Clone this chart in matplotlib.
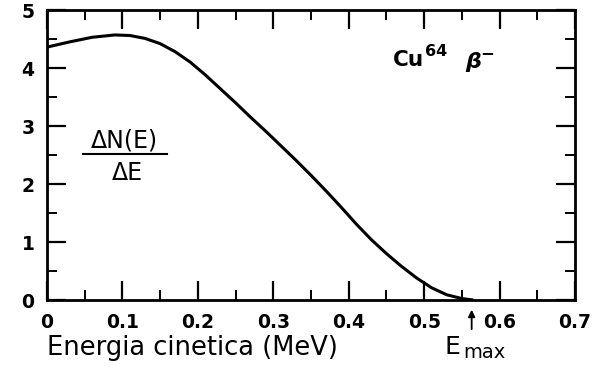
import matplotlib
matplotlib.use("Agg")
import matplotlib.pyplot as plt
from matplotlib.ticker import MultipleLocator
from matplotlib.lines import Line2D

energy = [0.00, 0.03, 0.06, 0.09, 0.11, 0.13, 0.15, 0.17, 0.19, 0.21, 0.23, 0.25,
          0.27, 0.29, 0.31, 0.33, 0.35, 0.37, 0.39, 0.41, 0.43, 0.45, 0.47, 0.49,
          0.51, 0.53, 0.55, 0.565]
counts = [4.36, 4.45, 4.53, 4.57, 4.56, 4.51, 4.42, 4.28, 4.10, 3.88, 3.64, 3.40,
          3.15, 2.91, 2.66, 2.41, 2.15, 1.88, 1.60, 1.31, 1.04, 0.80, 0.58, 0.38,
          0.21, 0.09, 0.025, 0.0]
xticks = [0, 0.1, 0.2, 0.3, 0.4, 0.5, 0.6, 0.7]
xticklabels = ["0", "0.1", "0.2", "0.3", "0.4", "0.5", "0.6", "0.7"]
yticks = [0, 1, 2, 3, 4, 5]
yticklabels = ["0", "1", "2", "3", "4", "5"]
e_max = 0.563

plt.rcParams['font.family'] = ['DejaVu Sans']

fig = plt.figure(figsize=(5.98, 3.67), dpi=100)
ax = fig.add_axes([47/598, 1-300/367, (575-47)/598, (300-10)/367])

ax.plot(energy, counts, color='black', lw=2.2, solid_joinstyle='round',
        solid_capstyle='butt')
ax.set_xlim(0, 0.7)
ax.set_ylim(0, 5)

ax.set_xticks(xticks)
ax.set_xticklabels(xticklabels)
ax.set_yticks(yticks)
ax.set_yticklabels(yticklabels)
ax.xaxis.set_minor_locator(MultipleLocator(0.05))
ax.yaxis.set_minor_locator(MultipleLocator(0.5))

ax.tick_params(which='both', direction='in', top=True, right=True, color='black')
ax.tick_params(which='major', length=14, width=1.6, labelsize=13.5, pad=9)
ax.tick_params(which='minor', length=7, width=1.4)
for lab in ax.get_xticklabels() + ax.get_yticklabels():
    lab.set_fontweight('bold')
for s in ax.spines.values():
    s.set_linewidth(2.0)

# axis labels
fig.text(47/598, 1-348/367, "Energia cinetica (MeV)", fontsize=18.5, ha='left', va='center')
fig.text(445/598, 1-347/367, "E", fontsize=18, ha='left', va='center')
fig.text(463/598, 1-352/367, "max", fontsize=14, ha='left', va='center')

# arrow at E_max
ax.annotate("", xy=(e_max, -0.12), xytext=(e_max, -0.55),
            arrowprops=dict(arrowstyle='-|>', color='black', lw=1.3, mutation_scale=10),
            annotation_clip=False)

# fraction label
fig.text(124/598, 1-140/367, "ΔN(E)", fontsize=17, ha='center', va='center')
fig.text(127/598, 1-173/367, "ΔE", fontsize=17, ha='center', va='center')
fig.add_artist(Line2D([83/598, 167/598], [1-154/367, 1-154/367], color='black', lw=1.5))

# isotope label
fig.text(393/598, 1-60/367, "Cu", fontsize=15.5, fontweight='bold', ha='left', va='center')
fig.text(425/598, 1-51/367, "64", fontsize=11.5, fontweight='bold', ha='left', va='center')
fig.text(465/598, 1-62/367, "β", fontsize=16, fontstyle='italic', fontweight='bold',
         ha='left', va='center')
fig.text(480/598, 1-53/367, "−", fontsize=12, fontweight='bold', ha='left', va='center')

fig.savefig("out.png", dpi=100)
